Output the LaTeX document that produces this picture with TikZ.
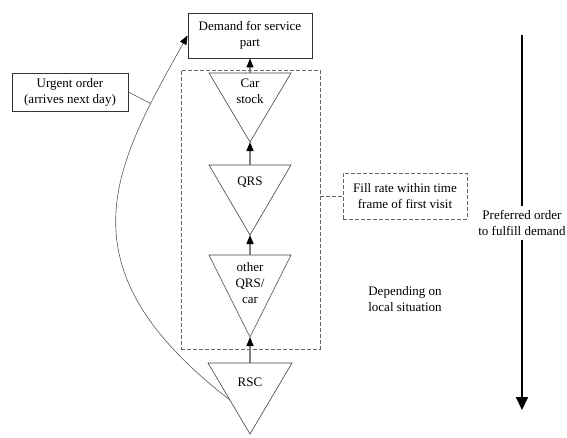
\documentclass[tikz,border=0pt]{standalone}
\usepackage{fontspec}
\setmainfont{Liberation Serif}
\usetikzlibrary{arrows.meta,calc}
\begin{document}
\begin{tikzpicture}[x=1pt,y=-1pt,
  font=\fontsize{13}{16}\selectfont,
  tri/.style={draw=black!75,line width=0.6pt,line join=miter},
  flow/.style={draw=black!50,line width=1.4pt,
    -{Triangle[color=black,length=9pt,width=7pt]}},
  solidbox/.style={draw=black!80,line width=0.8pt,align=center,inner sep=0pt},
  dashbox/.style={draw=black!60,line width=0.8pt,dash pattern=on 4pt off 2pt,
    align=center,inner sep=0pt},
  note/.style={align=center,inner sep=0pt},
  thinlink/.style={draw=black!65,line width=0.6pt},
  order/.style={draw=black,line width=2pt}]
\useasboundingbox (0,0) rectangle (567,437);

% area of stock levels reached within the first visit
\node[dashbox,minimum width=139,minimum height=279] (zone) at (250.5,209.5) {};

% demand
\node[solidbox,minimum width=124,minimum height=45] (demand) at (250,35.5)
  {Demand for service\\part};

% stock levels, drawn as inverted triangles
\coordinate (car-l) at (209,73);  \coordinate (car-r) at (291,73);
\coordinate (car-a) at (250,142); \coordinate (car-t) at (250,73);
\draw[tri] (car-l) -- (car-r) -- (car-a) -- cycle;
\node[note] (car) at (250,91) {Car\\stock};

\coordinate (qrs-l) at (209,165); \coordinate (qrs-r) at (291,165);
\coordinate (qrs-a) at (250,235); \coordinate (qrs-t) at (250,165);
\draw[tri] (qrs-l) -- (qrs-r) -- (qrs-a) -- cycle;
\node[note] (qrs) at (250,182) {QRS};

\coordinate (oth-l) at (209,255); \coordinate (oth-r) at (291,255);
\coordinate (oth-a) at (250,337); \coordinate (oth-t) at (250,255);
\draw[tri] (oth-l) -- (oth-r) -- (oth-a) -- cycle;
\node[note] (oth) at (250,283) {other\\QRS/\\car};

\coordinate (rsc-l) at (208,363); \coordinate (rsc-r) at (292,363);
\coordinate (rsc-a) at (250,434); \coordinate (rsc-t) at (250,363);
\draw[tri] (rsc-l) -- (rsc-r) -- (rsc-a) -- cycle;
\node[note] (rsc) at (250,382) {RSC};

% supply chain upwards
\draw[flow] (car-t) -- (demand.south);
\draw[flow] (qrs-t) -- (car-a);
\draw[flow] (oth-t) -- (qrs-a);
\draw[flow] (rsc-t) -- (oth-a);

% urgent order directly from the RSC
\coordinate (rsc-side) at ($(rsc-l)!0.52!(rsc-a)$);
\draw[thinlink,-{Triangle[color=black,length=9pt,width=7pt]}]
  (rsc-side) .. controls (56.6,266.2) and (114.3,166.6) .. (demand.west)
  coordinate[pos=0.82] (uo);
\node[solidbox,minimum width=116,minimum height=38] (urgent) at (70,92)
  {Urgent order\\(arrives next day)};
\draw[thinlink] (urgent.east) -- (uo);

% annotations
\node[dashbox,minimum width=124,minimum height=46] (fill) at (405,196)
  {Fill rate within time\\frame of first visit};
\draw[dashbox] (zone.east |- fill.west) -- (fill.west);
\node[note] (local) at (405,299) {Depending on\\local situation};

% preferred order
\coordinate (ptop) at (522,35);
\coordinate (pend) at (522,410);
\node[note,inner ysep=4pt] (pref) at (522,223) {Preferred order\\to fulfill demand};
\draw[order] (ptop) -- (pref.north);
\draw[order,-{Triangle[length=13pt,width=12pt]}] (pref.south) -- (pend);
\end{tikzpicture}
\end{document}
